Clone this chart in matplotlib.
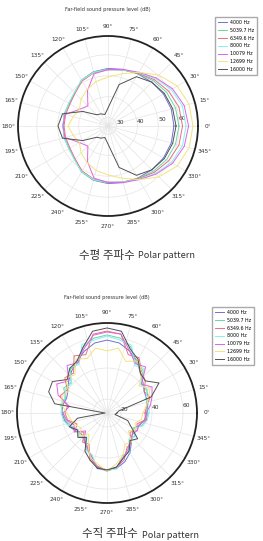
import numpy as np
import matplotlib
matplotlib.use('Agg')
import matplotlib.pyplot as plt

plt.rcParams['font.family'] = ['DejaVu Sans']

freqs = ['4000 Hz', '5039.7 Hz', '6349.6 Hz', '8000 Hz', '10079 Hz', '12699 Hz', '16000 Hz']
colors = ['#6f6fd8', '#6ad8a2', '#e8707e', '#86f2ea', '#e064e6', '#f2e47a', '#505050']

# horizontal pattern, every 15 deg (dB)
h_angles = np.arange(0, 360, 15)
h_4000 = [57.5, 57.3, 56.6, 55.6, 54.7, 54.0, 53.5, 52.8, 51.3, 48.5, 47.5, 47.7,
          47.5, 47.7, 47.5, 48.5, 51.3, 52.8, 53.5, 54.0, 54.7, 55.6, 56.6, 57.3]
h_5040 = [59.9, 59.4, 58.3, 56.6, 54.9, 53.7, 53.2, 52.8, 51.3, 48.5, 47.5, 47.5,
          47.5, 47.5, 47.5, 48.5, 51.3, 52.8, 53.2, 53.7, 54.9, 56.6, 58.3, 59.4]
h_6350 = [61.6, 61.1, 59.4, 57.3, 55.1, 53.7, 52.8, 52.3, 50.8, 48.2, 47.0, 47.0,
          47.0, 47.0, 47.0, 48.2, 50.8, 52.3, 52.8, 53.7, 55.1, 57.3, 59.4, 61.1]
h_8000 = [63.3, 62.8, 60.9, 58.0, 55.4, 53.7, 53.0, 52.5, 51.3, 48.7, 47.7, 47.7,
          47.5, 47.7, 47.7, 48.7, 51.3, 52.5, 53.0, 53.7, 55.4, 58.0, 60.9, 62.8]
h_10079 = [64.5, 63.7, 61.6, 58.5, 55.6, 54.0, 53.0, 51.8, 45.6, 39.6, 41.8, 47.3,
           47.5, 47.3, 41.8, 39.6, 45.6, 51.8, 53.0, 54.0, 55.6, 58.5, 61.6, 63.7]
h_12699 = [66.6, 66.1, 64.2, 60.4, 55.6, 51.8, 49.4, 48.0, 46.1, 44.2, 41.8, 43.2,
           45.1, 43.2, 41.8, 44.2, 46.1, 48.0, 49.4, 51.8, 55.6, 60.4, 64.2, 66.1]
h_16000 = [58.5, 58.0, 57.1, 55.6, 53.2, 46.5, 34.6, 31.7, 32.7, 33.6, 39.9, 48.5,
           49.9, 48.5, 39.9, 33.6, 32.7, 31.7, 34.6, 46.5, 53.2, 55.6, 57.1, 58.0]

# vertical pattern, every 10 deg (dB)
v_angles = np.arange(0, 360, 10)
v_4000 = [36.8, 37.4, 38.1, 38.7, 41.3, 44.5, 49.7, 53.5, 56.8, 58.0, 56.8, 53.5,
          49.7, 46.4, 43.2, 40.0, 38.7, 40.0, 40.0, 38.7, 36.8, 34.2, 32.3, 33.6,
          36.1, 41.9, 46.4, 47.7, 47.1, 44.5, 40.6, 35.5, 32.3, 31.0, 33.6, 35.5]
v_5040 = [37.4, 36.8, 39.4, 40.6, 40.0, 47.1, 48.4, 56.1, 60.0, 61.3, 60.0, 56.1,
          48.4, 47.7, 41.3, 43.2, 39.4, 41.3, 39.4, 38.1, 35.5, 32.9, 34.2, 32.3,
          38.1, 40.0, 47.1, 48.4, 47.1, 40.6, 39.4, 33.6, 34.2, 30.3, 34.8, 36.8]
v_6350 = [35.5, 36.8, 40.6, 38.7, 43.2, 45.8, 52.2, 51.0, 62.6, 63.8, 62.6, 51.0,
          53.5, 44.5, 46.4, 40.6, 43.2, 36.8, 38.1, 36.8, 31.6, 34.8, 30.3, 35.5,
          34.2, 43.2, 45.8, 48.4, 46.4, 43.2, 36.8, 35.5, 30.3, 33.6, 31.6, 36.1]
v_8000 = [38.1, 38.7, 37.4, 41.3, 39.4, 48.4, 46.4, 57.4, 58.7, 60.6, 58.7, 58.0,
          47.1, 49.0, 40.6, 41.9, 40.0, 40.6, 40.6, 39.4, 36.8, 32.3, 34.8, 31.0,
          38.7, 39.4, 47.7, 47.7, 47.7, 40.0, 40.6, 32.9, 34.8, 31.0, 35.5, 37.4]
v_10079 = [36.1, 39.4, 41.9, 44.5, 40.0, 49.7, 47.7, 53.5, 62.6, 63.2, 61.9, 54.8,
           48.4, 51.0, 43.2, 48.4, 44.5, 35.5, 39.4, 37.4, 33.6, 35.5, 29.0, 34.2,
           36.8, 40.6, 47.1, 47.7, 46.4, 41.3, 38.1, 34.2, 32.3, 33.6, 32.9, 36.8]
v_12699 = [34.2, 36.8, 39.4, 43.2, 38.1, 46.4, 49.7, 46.4, 53.5, 51.0, 53.5, 48.4,
           51.0, 43.2, 45.8, 39.4, 41.9, 40.6, 36.8, 34.8, 32.9, 30.3, 34.2, 29.0,
           35.5, 41.9, 44.5, 48.4, 44.5, 40.6, 34.2, 35.5, 29.0, 32.3, 30.3, 33.6]
v_16000 = [17.4, 18.7, 41.3, 49.7, 43.2, 44.5, 51.0, 54.8, 64.5, 65.8, 64.5, 56.1,
           49.7, 48.4, 44.5, 51.6, 51.0, 45.2, 12.3, 30.3, 36.8, 32.9, 35.5, 31.6,
           39.4, 43.2, 47.1, 47.7, 46.4, 41.9, 39.4, 34.2, 36.8, 29.0, 25.2, 16.2]

W, H = 263, 541
fig = plt.figure(figsize=(W / 100, H / 100), dpi=100)


def polar_panel(cx, cy, angles, series, rlim, rticks, leg_xy):
    R = 90
    ax = fig.add_axes([(cx - R) / W, 1 - (cy + R) / H, 2 * R / W, 2 * R / H],
                      projection='polar')
    th = np.deg2rad(np.append(angles, 360))
    for vals, lab, c in zip(series, freqs, colors):
        ax.plot(th, np.append(vals, vals[0]), color=c, lw=0.7, label=lab)
    ax.set_ylim(*rlim)
    ax.set_yticks(rticks)
    ax.set_yticklabels([str(t) for t in rticks], fontsize=4.3, color='#333333')
    ax.set_rlabel_position(4)
    ta = np.arange(0, 360, 15)
    ax.set_thetagrids(ta, labels=[f'{a}°' for a in ta], fontsize=4.2, color='#333333')
    ax.tick_params(axis='x', pad=-3.3)
    ax.grid(color='#e4e4e4', lw=0.5)
    ax.spines['polar'].set_linewidth(1.3)
    ax.spines['polar'].set_color('#222222')
    fig.text(cx / W, 1 - (cy - R - 26) / H, 'Far-field sound pressure level (dB)',
             fontsize=3.6, color='#333333', ha='center', va='center')
    ax.legend(loc='upper left', bbox_to_anchor=(leg_xy[0] / W, 1 - leg_xy[1] / H),
              bbox_transform=fig.transFigure, fontsize=3.4, fancybox=False,
              edgecolor='#aaaaaa', framealpha=1, handlelength=2.0,
              handletextpad=0.6, borderpad=0.6, labelspacing=0.6, borderaxespad=0)
    return ax


polar_panel(108, 126, h_angles,
            [h_4000, h_5040, h_6350, h_8000, h_10079, h_12699, h_16000],
            (26, 69), [30, 40, 50, 60], (215, 17))
polar_panel(107, 413, v_angles,
            [v_4000, v_5040, v_6350, v_8000, v_10079, v_12699, v_16000],
            (11, 69), [20, 40, 60], (212, 307))

kfont = ['Noto Sans CJK KR', 'DejaVu Sans']
fig.text(135 / W, 1 - 255 / H, '수평 주파수', family=kfont, fontsize=8.3,
         color='#333333', ha='right', va='center')
fig.text(138 / W, 1 - 256 / H, 'Polar pattern', family=kfont, fontsize=6.6,
         color='#333333', ha='left', va='center')
fig.text(138 / W, 1 - 534 / H, '수직 주파수', family=kfont, fontsize=8.3,
         color='#333333', ha='right', va='center')
fig.text(142 / W, 1 - 535 / H, 'Polar pattern', family=kfont, fontsize=6.6,
         color='#333333', ha='left', va='center')

fig.savefig('out.png', dpi=100, facecolor='white')
